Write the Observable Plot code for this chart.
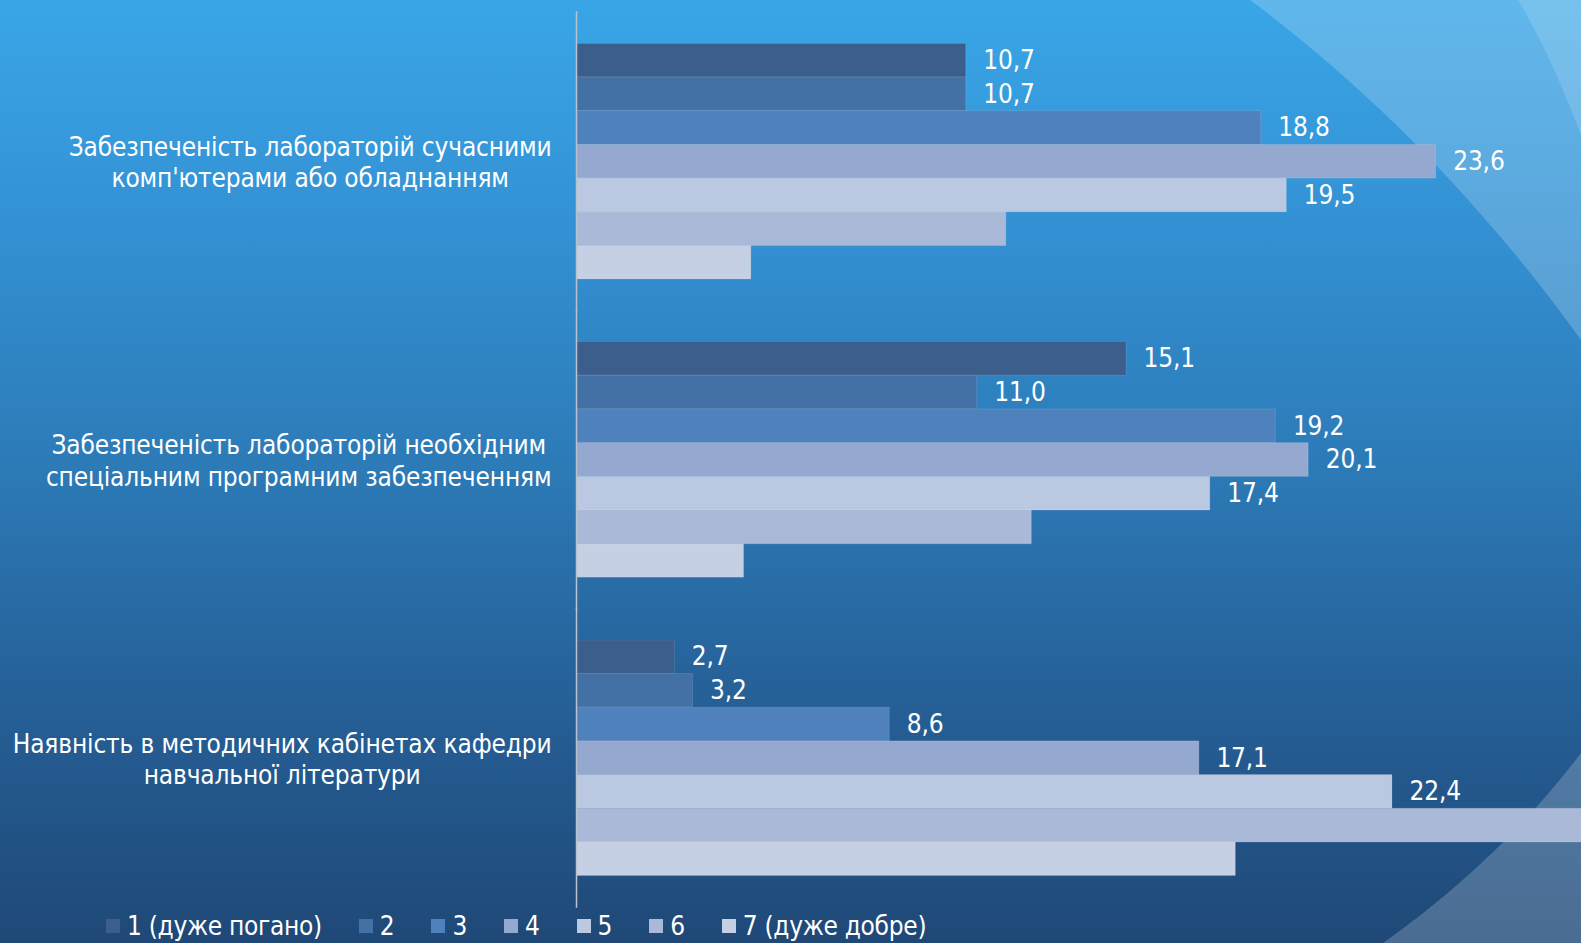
<!DOCTYPE html>
<html>
<head>
<meta charset="utf-8">
<script src="https://cdn.jsdelivr.net/npm/d3@7"></script>
<script src="https://cdn.jsdelivr.net/npm/@observablehq/plot@0.6"></script>
<style>
  html, body { margin: 0; padding: 0; width: 1581px; height: 943px; overflow: hidden; }
  body {
    position: relative;
    background: linear-gradient(to bottom, #39a6e7 0%, #3390d2 25%, #2c7ab6 50%, #26629a 72%, #1f4877 100%);
    font-family: "DejaVu Sans Condensed", "Liberation Sans Narrow", sans-serif;
    color: white;
  }
  #deco { position: absolute; left: 0; top: 0; }
  #chart { position: absolute; left: 0; top: 0; }
  #legend {
    position: absolute; left: 106px; top: 909px;
    display: flex; align-items: center; font-size: 26px; letter-spacing: -0.3px; line-height: 34px; white-space: nowrap;
  }
  #legend .item { display: flex; align-items: center; margin-right: 37px; }
  #legend .sw { width: 14px; height: 14px; margin-right: 7px; }
</style>
</head>
<body>
<svg id="deco" width="1581" height="943">
  <path d="M1250,0 C1370,90 1480,200 1581,340 L1581,0 Z" fill="rgba(255,255,255,0.2)"/>
  <path d="M1518,0 C1542,40 1562,85 1581,135 L1581,0 Z" fill="rgba(255,255,255,0.15)"/>
  <path d="M1383,943 Q1500,860 1581,753 L1581,943 Z" fill="rgba(255,255,255,0.2)"/>
</svg>
<div id="chart"></div>
<div id="legend"></div>
<script>
const categories = [
  "Забезпеченість лабораторій сучасними\nкомп'ютерами або обладнанням",
  "Забезпеченість лабораторій необхідним\nспеціальним програмним забезпеченням",
  "Наявність в методичних кабінетах кафедри\nнавчальної літератури"
];
const series = ["1 (дуже погано)", "2", "3", "4", "5", "6", "7 (дуже добре)"];
const valuesCat1 = [10.7, 10.7, 18.8, 23.6, 19.5, 11.8, 4.8];
const valuesCat2 = [15.1, 11.0, 19.2, 20.1, 17.4, 12.5, 4.6];
const valuesCat3 = [2.7, 3.2, 8.6, 17.1, 22.4, 27.9, 18.1];
const labeledSeries = ["1 (дуже погано)", "2", "3", "4", "5"];
const colors = ["#3b5e8c", "#4370a5", "#4f81bd", "#95a9d0", "#bbc8e1", "#aab9d8", "#c6d0e4"];

const FONT = '"DejaVu Sans Condensed", "Liberation Sans Narrow", sans-serif';
const FS = 26, LS = -0.15;
const allValues = [valuesCat1, valuesCat2, valuesCat3];
const data = [];
categories.forEach((c, i) => series.forEach((s, j) => data.push({category: c, series: s, value: allValues[i][j]})));
const fmt = v => v.toFixed(1).replace(".", ",");

const ctx = document.createElement("canvas").getContext("2d");
ctx.font = FS + "px " + FONT;
const catMarks = categories.map(c => {
  const w = Math.max(...c.split("\n").map(l => ctx.measureText(l).width + LS * l.length));
  return Plot.text([c], {
    fy: d => d, text: d => d, frameAnchor: "left",
    textAnchor: "middle", lineAnchor: "middle", lineHeight: 1.2,
    dx: -(25 + w / 2), fill: "white", fontSize: FS
  });
});

const chart = Plot.plot({
  width: 1581, height: 910,
  marginLeft: 576, marginRight: 0, marginTop: 12, marginBottom: 3,
  style: {background: "transparent", color: "white", fontFamily: FONT, fontSize: FS + "px", letterSpacing: LS + "px"},
  x: {domain: [0, 27.59], axis: null},
  fy: {domain: categories, paddingInner: 0.209, paddingOuter: 0.105, round: false, axis: null},
  y: {domain: series, padding: 0, round: false, axis: null},
  color: {domain: series, range: colors},
  marks: [
    Plot.barX(data, {x: "value", y: "series", fy: "category", fill: "series", clip: true,
      stroke: "white", strokeOpacity: 0.12, strokeWidth: 1}),
    Plot.text(data.filter(d => labeledSeries.includes(d.series)), {
      x: "value", y: "series", fy: "category", text: d => fmt(d.value),
      textAnchor: "start", dx: 17, fill: "white", fontSize: FS
    }),
    ...catMarks,
    Plot.ruleX([0], {stroke: "#b9c3cf", strokeWidth: 1.5, insetTop: -32, insetBottom: -32})
  ]
});
document.getElementById("chart").appendChild(chart);

const legend = document.getElementById("legend");
series.forEach((s, i) => {
  const it = document.createElement("div");
  it.className = "item";
  const sw = document.createElement("div");
  sw.className = "sw";
  sw.style.background = colors[i];
  const t = document.createElement("span");
  t.textContent = s;
  it.appendChild(sw); it.appendChild(t);
  legend.appendChild(it);
});
</script>
</body>
</html>
